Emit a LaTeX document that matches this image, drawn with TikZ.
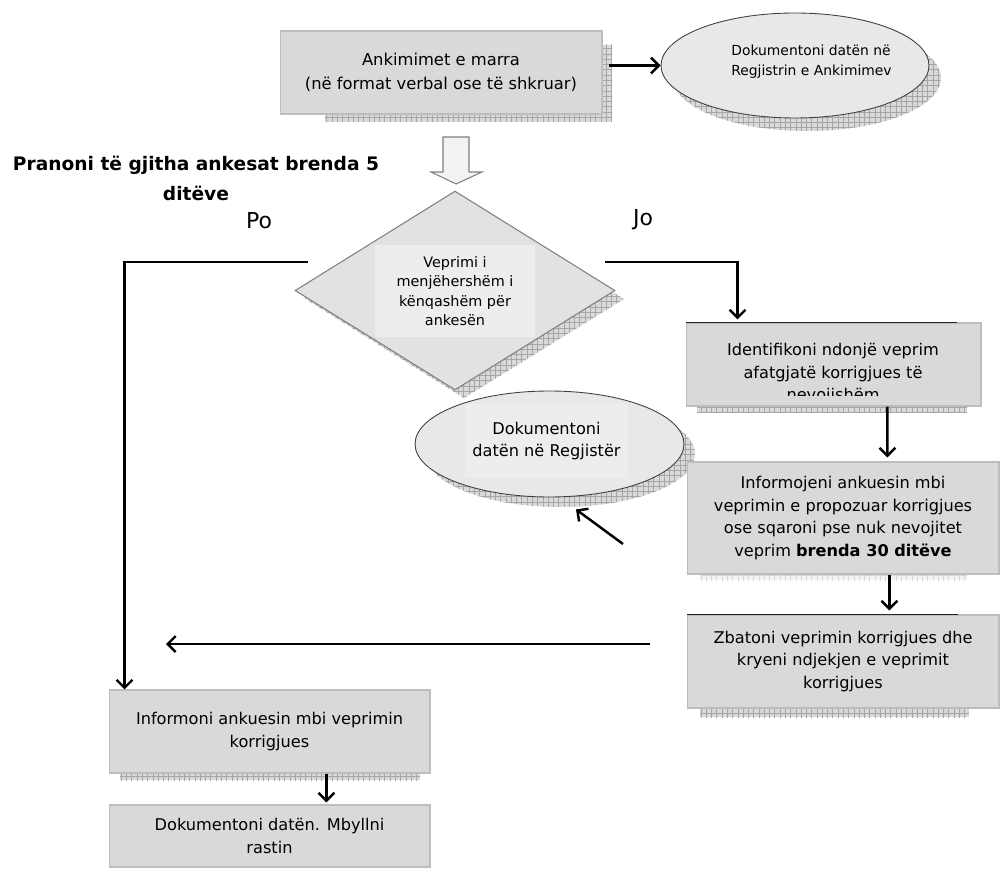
\documentclass[tikz,border=0pt]{standalone}
\usepackage{fontspec}
\setmainfont{DejaVu Sans}
\usetikzlibrary{shapes.geometric,arrows.meta,patterns,calc}
\definecolor{boxgray}{HTML}{D9D9D9}
\definecolor{boxline}{HTML}{BDBDBD}
\definecolor{ovalgray}{HTML}{E8E8E8}
\definecolor{diagray}{HTML}{E2E2E2}
\definecolor{txtgray}{HTML}{EDEDED}
\tikzset{
  box/.style={draw=boxline,fill=boxgray,line width=0.6pt,align=center,inner sep=0pt,font=\fontsize{9.2}{12.8}\selectfont},
  oval/.style={ellipse,draw=black!75,fill=ovalgray,line width=0.5pt,inner sep=0pt},
  decision/.style={diamond,draw=black!50,fill=diagray,line width=0.6pt,inner sep=0pt},
  txtbox/.style={fill=txtgray,align=center,inner sep=0pt},
  hatch/.style={fill=gray!30,postaction={pattern=grid,pattern color=gray!70}},
  arr/.style={-{Straight Barb[length=4.5pt,width=9pt]},line width=1.4pt},
  yesno/.style={font=\fontsize{12.5}{14}\selectfont}
}
\begin{document}
\begin{tikzpicture}[x=0.02cm,y=-0.02cm]
\useasboundingbox (0,0) rectangle (1000,871);
%shadows
\fill[hatch] (325,45) rectangle (612,122);
\fill[hatch] (807,78) ellipse [x radius=2.68cm,y radius=1.06cm];
\fill[hatch] (464,199)--(624,299)--(464,398)--(304,298)--cycle;
\fill[hatch] (560.5,454) ellipse [x radius=2.69cm,y radius=1.06cm];
\fill[hatch] (697,400) rectangle (967,412);
\fill[hatch,opacity=0.35] (700,570) rectangle (967,580);
\fill[hatch] (700,700) rectangle (969,717);
\fill[hatch] (120,765) rectangle (420,780);
%boxes
\node[box,minimum width=6.44cm,minimum height=1.66cm,font=\fontsize{9.3}{13.6}\selectfont] (recv) at (441,72.5) {Ankimimet e marra\\(në format verbal ose të shkruar)};
\node[oval,minimum width=5.36cm,minimum height=2.1cm] (reg1) at (795,65.5) {};
\begin{scope}
\clip (661,13) rectangle (890,118);
\node[anchor=west,align=left,inner sep=0pt,font=\fontsize{7.9}{11.3}\selectfont] (reg1txt) at (731,62) {Dokumentoni datën në\\Regjistrin e Ankimimev};
\end{scope}
%hollow arrow
\draw[draw=black!50,fill=black!5,line width=0.6pt] (443,137)--(469,137)--(469,172)--(482,172)--(456,184)--(431,172)--(443,172)--cycle;
\node[align=center,font=\bfseries\fontsize{10.6}{17}\selectfont] (rule) at (196,178) {Pranoni të gjitha ankesat brenda 5\\ditëve};
%decision
\node[decision,minimum width=6.4cm,minimum height=3.98cm] (dec) at (455,290.5) {};
\node[txtbox,minimum width=3.2cm,minimum height=1.84cm,font=\fontsize{8.2}{11}\selectfont] (dectxt) at (455,291) {Veprimi i\\menjëhershëm i\\kënqashëm për\\ankesën};
\node[yesno] (po) at (259,221) {Po};
\node[yesno] (jo) at (643,220) {Jo};
\coordinate (poend) at (308,262);
\coordinate (joend) at (605,262);
%right branch
\node[box,minimum width=5.9cm,minimum height=1.66cm] (ident) at (833.5,364.5) {};
\begin{scope}
\clip (687,324) rectangle (980,395);
\node[align=center,inner sep=0pt,font=\fontsize{9.2}{12.8}\selectfont] (identtxt) at (833,374) {Identifikoni ndonjë veprim\\afatgjatë korrigjues të\\nevojishëm};
\end{scope}
\draw[line width=0.9pt,black!85] (ident.north west)--++(271,0);
\node[oval,minimum width=5.38cm,minimum height=2.12cm] (regnote) at (549.5,444) {};
\node[txtbox,minimum width=3.26cm,minimum height=1.5cm,font=\fontsize{9.2}{12.8}\selectfont] (regtxt) at (546.5,441) {Dokumentoni\\datën në Regjistër};
\node[box,minimum width=6.24cm,minimum height=2.24cm] (notify) at (843,518) {Informojeni ankuesin mbi\\veprimin e propozuar korrigjues\\ose sqaroni pse nuk nevojitet\\veprim \textbf{brenda 30 ditëve}};
\node[box,minimum width=6.24cm,minimum height=1.86cm] (implement) at (843,661.5) {Zbatoni veprimin korrigjues dhe\\kryeni ndjekjen e veprimit\\korrigjues};
\draw[line width=0.9pt,black!85] (implement.north west)--++(271,0);
%left branch
\node[box,minimum width=6.42cm,minimum height=1.66cm] (inform) at (269.5,731.5) {Informoni ankuesin mbi veprimin\\korrigjues};
\node[box,minimum width=6.42cm,minimum height=1.24cm] (close) at (269.5,836) {Dokumentoni datën. Mbyllni\\rastin};
%connectors
\draw[arr,shorten <=0.12cm] (recv.east |- reg1.west)--(reg1.west);
\draw[arr] (poend) -| ($(inform.north west)+(16,0)$);
\draw[arr] (joend) -| ($(ident.north west)+(52,-3)$);
\draw[arr] ([xshift=4.04cm]ident.south west)--([xshift=4.02cm,yshift=0.08cm]notify.north west);
\draw[arr] ([xshift=4.06cm]notify.south west)--([xshift=4.06cm,yshift=0.08cm]implement.north west);
\draw[arr] ([xshift=4.36cm]inform.south west)--([xshift=4.36cm,yshift=0.04cm]close.north west);
\coordinate (back) at (650,644);
\coordinate (backend) at (166,644);
\draw[arr] (back)--(backend);
\coordinate (fromnote) at (623,544);
\draw[arr] (fromnote)--($(regnote.south)+(26.5,12)$);
\end{tikzpicture}
\end{document}
